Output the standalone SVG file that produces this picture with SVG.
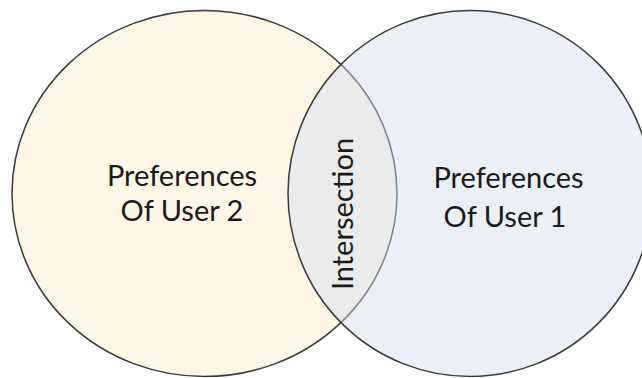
<svg xmlns="http://www.w3.org/2000/svg" width="642" height="378" viewBox="0 0 642 378">
  <style>
    .set { stroke: #3a3a3a; stroke-width: 1.5; }
    .label { font-family: Lato, "Open Sans", "Liberation Sans", sans-serif; font-size: 29px; fill: #1a1a1a; text-anchor: middle; }
  </style>
  <rect width="642" height="378" fill="#ffffff"/>
  <!-- Set of user 2 (drawn first, underneath) -->
  <g id="user2">
    <ellipse class="set" cx="204.5" cy="193.5" rx="192.5" ry="183" fill="#FFF7E6"/>
    <text class="label" x="182" y="186">Preferences</text>
    <text class="label" x="182" y="221">Of User 2</text>
  </g>
  <!-- Set of user 1, translucent so the overlap shows through -->
  <g id="user1">
    <ellipse class="set" cx="470" cy="193.5" rx="182" ry="183" fill="#D0DBEF" fill-opacity="0.45"/>
    <text class="label" x="508.5" y="188">Preferences</text>
    <text class="label" x="505" y="227">Of User 1</text>
  </g>
  <!-- Overlap label -->
  <g id="intersection">
    <text class="label" transform="translate(353,214) rotate(-90)" x="0" y="0">Intersection</text>
  </g>
</svg>
